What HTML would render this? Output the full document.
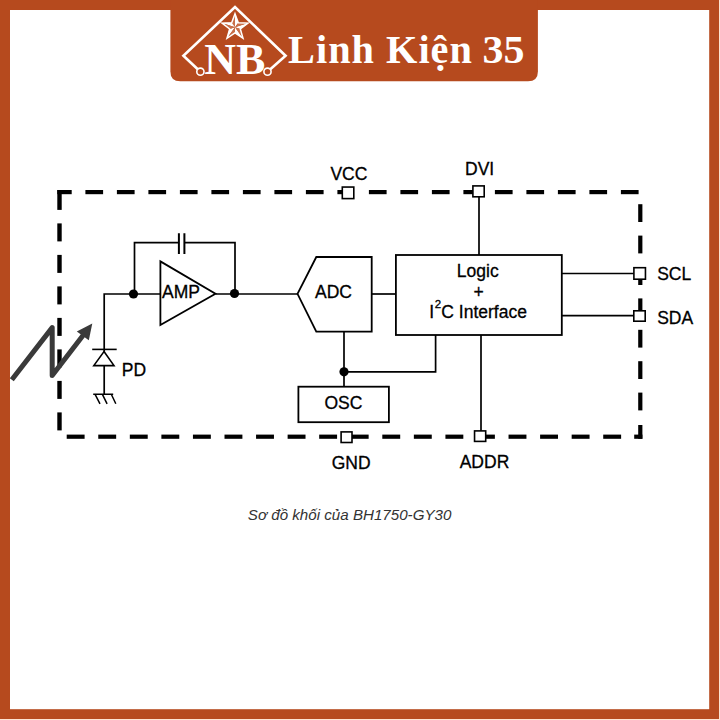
<!DOCTYPE html>
<html><head><meta charset="utf-8"><style>
html,body{margin:0;padding:0;background:#fff;}
body{width:720px;height:720px;overflow:hidden;position:relative;}
svg{position:absolute;left:0;top:0;}
</style></head><body>
<svg width="720" height="720" viewBox="0 0 720 720">
<rect x="0" y="0" width="720" height="720" fill="#FDE3D2"/>
<rect x="0" y="0" width="719" height="719" fill="#B64A1E"/>
<rect x="10" y="10" width="699.2" height="699.2" fill="#fff"/>
<path d="M170.4,0 H537.9 V71.5 Q537.9,81.3 528,81.3 H180.3 Q170.4,81.3 170.4,71.5 Z" fill="#B64A1E"/>
<path d="M200.4,71.7 L183.4,55.8 L235,7 L285.6,55.8 L267.5,71.7" stroke="#fff" stroke-width="2.6" fill="none" stroke-linejoin="miter"/>
<circle cx="200.4" cy="71.7" r="3.6" stroke="#fff" stroke-width="1.6" fill="#B64A1E"/>
<circle cx="267.5" cy="71.7" r="3.6" stroke="#fff" stroke-width="1.6" fill="#B64A1E"/>
<path d="M235,27.3 L235.00,13.70 L238.29,22.77 Z" fill="#fff"/>
<path d="M235,27.3 L231.71,22.77 L235.00,13.70 Z" fill="#C9704A"/>
<path d="M235,27.3 L247.93,23.10 L240.33,29.03 Z" fill="#fff"/>
<path d="M235,27.3 L238.29,22.77 L247.93,23.10 Z" fill="#C9704A"/>
<path d="M235,27.3 L242.99,38.30 L235.00,32.90 Z" fill="#fff"/>
<path d="M235,27.3 L240.33,29.03 L242.99,38.30 Z" fill="#C9704A"/>
<path d="M235,27.3 L227.01,38.30 L229.67,29.03 Z" fill="#fff"/>
<path d="M235,27.3 L235.00,32.90 L227.01,38.30 Z" fill="#C9704A"/>
<path d="M235,27.3 L222.07,23.10 L231.71,22.77 Z" fill="#fff"/>
<path d="M235,27.3 L229.67,29.03 L222.07,23.10 Z" fill="#C9704A"/>
<polygon points="235.00,13.70 238.29,22.77 247.93,23.10 240.33,29.03 242.99,38.30 235.00,32.90 227.01,38.30 229.67,29.03 222.07,23.10 231.71,22.77" stroke="#fff" stroke-width="1.5" fill="none" stroke-linejoin="miter"/>
<text x="204.2" y="74" font-size="44" font-weight="bold" font-family="Liberation Serif, serif" fill="#fff">NB</text>
<text x="288.1" y="63.1" font-size="40.3" letter-spacing="1" font-weight="bold" font-family="Liberation Serif, serif" fill="#fff">Linh Kiện</text>
<text x="482.6" y="63.1" font-size="40.3" textLength="42" lengthAdjust="spacingAndGlyphs" font-weight="bold" font-family="Liberation Serif, serif" fill="#fff">35</text>
<rect x="57.30" y="190.00" width="14.40" height="4.20" fill="#000"/>
<rect x="85.40" y="190.00" width="17.70" height="4.20" fill="#000"/>
<rect x="116.90" y="190.00" width="17.70" height="4.20" fill="#000"/>
<rect x="148.40" y="190.00" width="17.70" height="4.20" fill="#000"/>
<rect x="179.90" y="190.00" width="17.70" height="4.20" fill="#000"/>
<rect x="211.40" y="190.00" width="17.70" height="4.20" fill="#000"/>
<rect x="242.90" y="190.00" width="17.70" height="4.20" fill="#000"/>
<rect x="274.40" y="190.00" width="17.70" height="4.20" fill="#000"/>
<rect x="305.90" y="190.00" width="17.70" height="4.20" fill="#000"/>
<rect x="337.40" y="190.00" width="4.60" height="4.20" fill="#000"/>
<rect x="368.90" y="190.00" width="17.70" height="4.20" fill="#000"/>
<rect x="400.40" y="190.00" width="17.70" height="4.20" fill="#000"/>
<rect x="431.90" y="190.00" width="17.70" height="4.20" fill="#000"/>
<rect x="463.40" y="190.00" width="9.60" height="4.20" fill="#000"/>
<rect x="494.90" y="190.00" width="17.70" height="4.20" fill="#000"/>
<rect x="526.40" y="190.00" width="17.70" height="4.20" fill="#000"/>
<rect x="557.90" y="190.00" width="17.70" height="4.20" fill="#000"/>
<rect x="589.40" y="190.00" width="17.70" height="4.20" fill="#000"/>
<rect x="620.90" y="190.00" width="17.70" height="4.20" fill="#000"/>
<rect x="57.30" y="190.00" width="4.40" height="19.90" fill="#000"/>
<rect x="57.30" y="223.40" width="4.40" height="18.00" fill="#000"/>
<rect x="57.30" y="254.90" width="4.40" height="18.00" fill="#000"/>
<rect x="57.30" y="286.40" width="4.40" height="18.00" fill="#000"/>
<rect x="57.30" y="317.90" width="4.40" height="18.00" fill="#000"/>
<rect x="57.30" y="349.40" width="4.40" height="18.00" fill="#000"/>
<rect x="57.30" y="380.90" width="4.40" height="18.00" fill="#000"/>
<rect x="57.30" y="412.40" width="4.40" height="18.00" fill="#000"/>
<rect x="638.20" y="204.20" width="4.20" height="17.80" fill="#000"/>
<rect x="638.20" y="235.60" width="4.20" height="17.80" fill="#000"/>
<rect x="638.20" y="267.00" width="4.20" height="18.00" fill="#000"/>
<rect x="638.20" y="298.40" width="4.20" height="17.80" fill="#000"/>
<rect x="638.20" y="329.80" width="4.20" height="17.80" fill="#000"/>
<rect x="638.20" y="361.20" width="4.20" height="17.80" fill="#000"/>
<rect x="638.20" y="392.60" width="4.20" height="17.80" fill="#000"/>
<rect x="638.20" y="425.00" width="4.20" height="13.80" fill="#000"/>
<rect x="66.70" y="434.60" width="17.90" height="4.20" fill="#000"/>
<rect x="98.26" y="434.60" width="17.90" height="4.20" fill="#000"/>
<rect x="129.82" y="434.60" width="17.90" height="4.20" fill="#000"/>
<rect x="161.38" y="434.60" width="17.90" height="4.20" fill="#000"/>
<rect x="192.94" y="434.60" width="17.90" height="4.20" fill="#000"/>
<rect x="224.50" y="434.60" width="17.90" height="4.20" fill="#000"/>
<rect x="256.06" y="434.60" width="17.90" height="4.20" fill="#000"/>
<rect x="287.62" y="434.60" width="17.90" height="4.20" fill="#000"/>
<rect x="319.18" y="434.60" width="17.90" height="4.20" fill="#000"/>
<rect x="350.74" y="434.60" width="17.90" height="4.20" fill="#000"/>
<rect x="382.30" y="434.60" width="17.90" height="4.20" fill="#000"/>
<rect x="413.86" y="434.60" width="17.90" height="4.20" fill="#000"/>
<rect x="445.42" y="434.60" width="17.90" height="4.20" fill="#000"/>
<rect x="476.98" y="434.60" width="17.90" height="4.20" fill="#000"/>
<rect x="508.54" y="434.60" width="17.90" height="4.20" fill="#000"/>
<rect x="540.10" y="434.60" width="17.90" height="4.20" fill="#000"/>
<rect x="571.66" y="434.60" width="17.90" height="4.20" fill="#000"/>
<rect x="603.22" y="434.60" width="17.90" height="4.20" fill="#000"/>
<rect x="634.20" y="434.60" width="8.20" height="4.20" fill="#000"/>
<path d="M104.2,394.3 V294 H160" stroke="#000" stroke-width="1.7" fill="none"/>
<path d="M134.5,294 V242.6 H178.9" stroke="#000" stroke-width="1.7" fill="none"/>
<path d="M184.4,242.6 H235 V294" stroke="#000" stroke-width="1.7" fill="none"/>
<path d="M215.5,294 H297.5" stroke="#000" stroke-width="1.7" fill="none"/>
<path d="M371.7,294 H395.8" stroke="#000" stroke-width="1.7" fill="none"/>
<path d="M344,331.7 V386.7" stroke="#000" stroke-width="1.7" fill="none"/>
<path d="M344,371.8 H435.6 V335" stroke="#000" stroke-width="1.7" fill="none"/>
<path d="M479,197 V255" stroke="#000" stroke-width="1.7" fill="none"/>
<path d="M481,335 V431" stroke="#000" stroke-width="1.7" fill="none"/>
<path d="M561.5,273.5 H634" stroke="#000" stroke-width="1.7" fill="none"/>
<path d="M561.5,315.7 H634" stroke="#000" stroke-width="1.7" fill="none"/>
<path d="M178.9,233.3 V253.9 M184.4,233.3 V253.9" stroke="#000" stroke-width="2" fill="none"/>
<path d="M160.4,261.4 L215.5,293.8 L160.4,325 Z" stroke="#000" stroke-width="1.8" fill="#fff"/>
<path d="M297.5,293.8 L316.3,257 H371.7 V331.7 H316.3 Z" stroke="#000" stroke-width="1.8" fill="#fff"/>
<rect x="395.9" y="255" width="165.9" height="80" stroke="#000" stroke-width="1.8" fill="#fff"/>
<rect x="298.4" y="386.7" width="90.5" height="35.5" stroke="#000" stroke-width="1.8" fill="#fff"/>
<circle cx="133.5" cy="294" r="4.6" fill="#000"/>
<circle cx="234.5" cy="293.5" r="4.6" fill="#000"/>
<circle cx="344" cy="371.8" r="4.6" fill="#000"/>
<path d="M92.2,349.4 H116.7" stroke="#000" stroke-width="1.6"/>
<path d="M104,351.5 L114,365.6 H93.8 Z" stroke="#000" stroke-width="1.6" fill="#fff"/>
<path d="M93.2,394.3 H113.2 M95.1,394.3 L100,403.8 M102.4,394.3 L107.1,403.8 M111.3,394.3 L115.8,403.8" stroke="#000" stroke-width="1.5" fill="none"/>
<path d="M11.8,379.8 L52.2,327.6 L52.2,375.6 L84.5,333.6" stroke="#3a3a3a" stroke-width="5" fill="none" stroke-linejoin="round"/>
<path d="M92.3,323.6 L76.8,331.4 L88.8,340.2 Z" fill="#3a3a3a"/>
<rect x="342.30" y="187.05" width="11.50" height="11.55" fill="#fff" stroke="#000" stroke-width="1.6"/>
<rect x="472.90" y="185.90" width="11.30" height="10.90" fill="#fff" stroke="#000" stroke-width="1.6"/>
<rect x="633.90" y="267.70" width="11.55" height="11.50" fill="#fff" stroke="#000" stroke-width="1.6"/>
<rect x="633.80" y="310.80" width="11.40" height="10.40" fill="#fff" stroke="#000" stroke-width="1.6"/>
<rect x="341.10" y="431.90" width="10.90" height="10.60" fill="#fff" stroke="#000" stroke-width="1.6"/>
<rect x="474.55" y="430.90" width="11.15" height="10.50" fill="#fff" stroke="#000" stroke-width="1.6"/>
<text x="162" y="297.9" font-size="17.5" font-family="Liberation Sans, sans-serif" fill="#000" stroke="#000" stroke-width="0.3" >AMP</text>
<text x="315" y="297.5" font-size="17.5" font-family="Liberation Sans, sans-serif" fill="#000" stroke="#000" stroke-width="0.3" >ADC</text>
<text x="324.4" y="408.9" font-size="17.5" font-family="Liberation Sans, sans-serif" fill="#000" stroke="#000" stroke-width="0.3" >OSC</text>
<text x="456.8" y="277" font-size="17.5" font-family="Liberation Sans, sans-serif" fill="#000" stroke="#000" stroke-width="0.3" >Logic</text>
<text x="478.6" y="297.8" font-size="17.5" font-family="Liberation Sans, sans-serif" fill="#000" stroke="#000" stroke-width="0.3" text-anchor="middle">+</text>
<text x="429.2" y="317.5" font-size="17.5" font-family="Liberation Sans, sans-serif" fill="#000" stroke="#000" stroke-width="0.3" >I<tspan dy="-9.3" dx="0.6" font-size="11.5">2</tspan><tspan dy="9.3" dx="0.2">C Interface</tspan></text>
<text x="121.8" y="375.6" font-size="17.5" font-family="Liberation Sans, sans-serif" fill="#000" stroke="#000" stroke-width="0.3" >PD</text>
<text x="330.4" y="180.4" font-size="17.5" font-family="Liberation Sans, sans-serif" fill="#000" stroke="#000" stroke-width="0.3" >VCC</text>
<text x="465" y="174.8" font-size="17.5" font-family="Liberation Sans, sans-serif" fill="#000" stroke="#000" stroke-width="0.3" >DVI</text>
<text x="331.7" y="468.75" font-size="17.5" font-family="Liberation Sans, sans-serif" fill="#000" stroke="#000" stroke-width="0.3" >GND</text>
<text x="459.7" y="468" font-size="17.5" font-family="Liberation Sans, sans-serif" fill="#000" stroke="#000" stroke-width="0.3" >ADDR</text>
<text x="657.2" y="280" font-size="17.5" font-family="Liberation Sans, sans-serif" fill="#000" stroke="#000" stroke-width="0.3" >SCL</text>
<text x="657.2" y="323.9" font-size="17.5" font-family="Liberation Sans, sans-serif" fill="#000" stroke="#000" stroke-width="0.3" >SDA</text>
<text x="247.8" y="520" font-size="15.15" font-style="italic" font-family="Liberation Sans, sans-serif" fill="#333">Sơ đồ khối của BH1750-GY30</text>
</svg>
</body></html>
